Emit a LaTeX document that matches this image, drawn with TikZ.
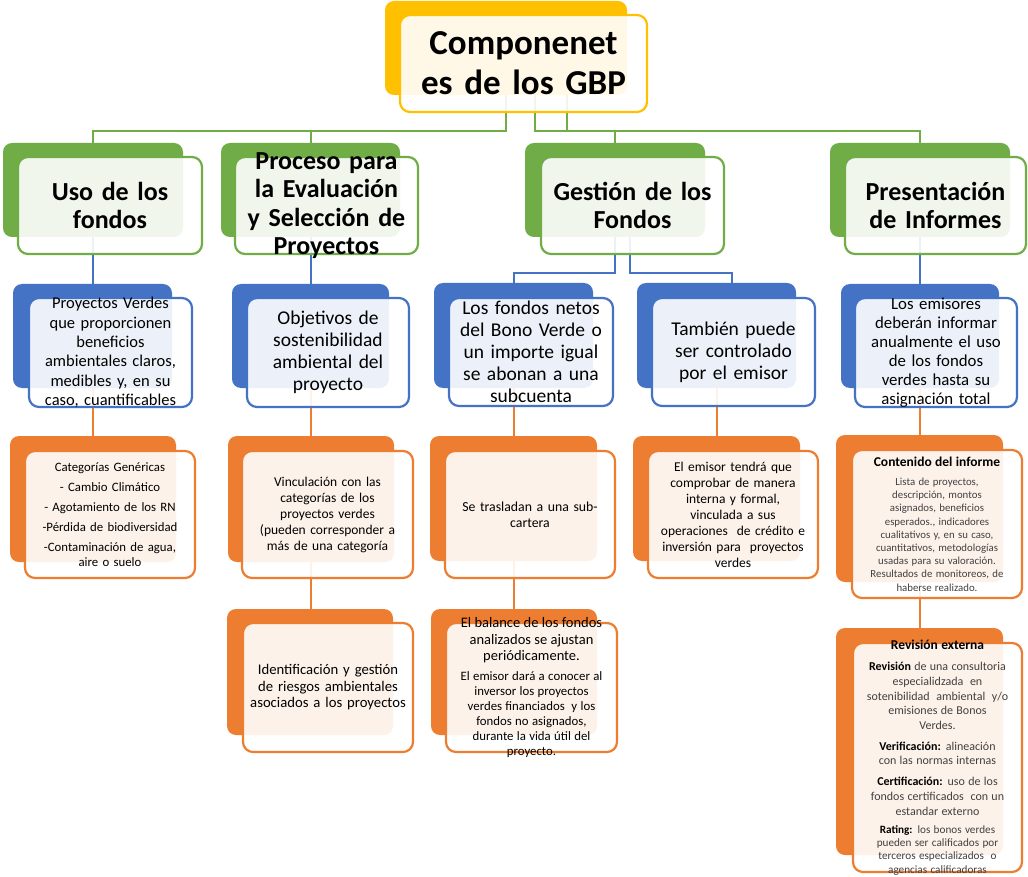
\documentclass[tikz,border=0pt]{standalone}
\usepackage{fontspec}
\setmainfont{Carlito}
\definecolor{gbpgreen}{HTML}{70AD47}
\definecolor{gbpblue}{HTML}{4472C4}
\definecolor{gbporange}{HTML}{ED7D31}
\definecolor{gbpgold}{HTML}{FFC000}
\newcommand\gbpfs[2]{\fontsize{#1}{#2}\selectfont}
\begin{document}
\begin{tikzpicture}[x=1pt,y=-1pt,
  backbox/.style={fill=#1, draw=none, rounded corners=9pt, inner sep=0pt, outer sep=0pt, anchor=north west},
  frontbox/.style={draw=#1, line width=2.2pt, fill=white, fill opacity=0.9, rounded corners=10pt, inner sep=0pt, outer sep=0pt, anchor=north west},
  boxtext/.style={text width=230pt, align=center, inner sep=0pt, text=black},
  link/.style={draw=#1, line width=2pt},
]
\fill[white] (0,0) rectangle (1028,877);
\useasboundingbox (0,0) rectangle (1028,877);

% ---------- solid back panels ----------
\node[backbox=gbpgold,   minimum width=242pt, minimum height=94pt]  (tb)  at (385,1) {};
\node[backbox=gbpgreen,  minimum width=180pt, minimum height=94pt]  (h1b) at (3,143) {};
\node[backbox=gbpgreen,  minimum width=179pt, minimum height=94pt]  (h2b) at (221,143) {};
\node[backbox=gbpgreen,  minimum width=180pt, minimum height=94pt]  (h3b) at (525,143) {};
\node[backbox=gbpgreen,  minimum width=180pt, minimum height=94pt]  (h4b) at (830,143) {};
\node[backbox=gbpblue,   minimum width=159pt, minimum height=104pt] (b1b) at (13,284) {};
\node[backbox=gbpblue,   minimum width=157pt, minimum height=104pt] (b2b) at (232,284) {};
\node[backbox=gbpblue,   minimum width=159pt, minimum height=105pt] (b3b) at (434,283) {};
\node[backbox=gbpblue,   minimum width=159pt, minimum height=105pt] (b4b) at (637,283) {};
\node[backbox=gbpblue,   minimum width=158pt, minimum height=104pt] (b5b) at (841,284) {};
\node[backbox=gbporange, minimum width=166pt, minimum height=126pt] (o1b) at (10,436) {};
\node[backbox=gbporange, minimum width=166pt, minimum height=126pt] (o2b) at (228,436) {};
\node[backbox=gbporange, minimum width=167pt, minimum height=125pt] (o3b) at (430,436) {};
\node[backbox=gbporange, minimum width=167pt, minimum height=125pt] (o4b) at (633,436) {};
\node[backbox=gbporange, minimum width=167pt, minimum height=147pt] (o5b) at (836,435) {};
\node[backbox=gbporange, minimum width=166pt, minimum height=126pt] (o6b) at (227,609) {};
\node[backbox=gbporange, minimum width=166pt, minimum height=126pt] (o7b) at (431,609) {};
\node[backbox=gbporange, minimum width=167pt, minimum height=227pt] (o8b) at (836,628) {};

% ---------- connectors ----------
\draw[link=gbpgreen] (tb.south) -- ++(0,36) -| (h1b.north);
\draw[link=gbpgreen] (tb.south) -- ++(0,36) -| (h2b.north);
\draw[link=gbpgreen] ([xshift=29pt]tb.south) -- ++(0,36) -| (h3b.north);
\draw[link=gbpgreen] ([xshift=61pt]tb.south) -- ++(0,36) -| (h4b.north);

\draw[link=gbpblue] (h1b.south) -- (h1b.south |- b1b.north);
\draw[link=gbpblue] (h2b.south) -- (h2b.south |- b2b.north);
\draw[link=gbpblue] (h3b.south) -- ++(0,36) -| (b3b.north);
\draw[link=gbpblue] ([xshift=15pt]h3b.south) -- ++(0,36) -| ([xshift=15pt]b4b.north);
\draw[link=gbpblue] (h4b.south) -- (h4b.south |- b5b.north);

\draw[link=gbporange] (b1b.south) -- (b1b.south |- o1b.north);
\draw[link=gbporange] (b2b.south) -- (b2b.south |- o2b.north);
\draw[link=gbporange] (b3b.south) -- (b3b.south |- o3b.north);
\draw[link=gbporange] (b4b.south) -- (b4b.south |- o4b.north);
\draw[link=gbporange] (b5b.south) -- (b5b.south |- o5b.north);
\draw[link=gbporange] (o2b.south) -- (o2b.south |- o6b.north);
\draw[link=gbporange] (o3b.south) -- (o3b.south |- o7b.north);
\draw[link=gbporange] (o5b.south) -- (o5b.south |- o8b.north);

% ---------- light front panels ----------
\node[frontbox=gbpgold,   minimum width=247pt, minimum height=97pt]  (t)  at (400,15) {};
\node[frontbox=gbpgreen,  minimum width=184pt, minimum height=97pt]  (h1) at (18,157) {};
\node[frontbox=gbpgreen,  minimum width=183pt, minimum height=97pt]  (h2) at (235,157) {};
\node[frontbox=gbpgreen,  minimum width=183pt, minimum height=97pt]  (h3) at (541,157) {};
\node[frontbox=gbpgreen,  minimum width=181pt, minimum height=97pt]  (h4) at (845,157) {};
\node[frontbox=gbpblue,   minimum width=163pt, minimum height=109pt] (b1) at (29,298) {};
\node[frontbox=gbpblue,   minimum width=162pt, minimum height=109pt] (b2) at (247,298) {};
\node[frontbox=gbpblue,   minimum width=164pt, minimum height=108pt] (b3) at (449,298) {};
\node[frontbox=gbpblue,   minimum width=163pt, minimum height=108pt] (b4) at (652,298) {};
\node[frontbox=gbpblue,   minimum width=162pt, minimum height=109pt] (b5) at (855,298) {};
\node[frontbox=gbporange, minimum width=170pt, minimum height=127pt] (o1) at (25,451) {};
\node[frontbox=gbporange, minimum width=171pt, minimum height=127pt] (o2) at (242,451) {};
\node[frontbox=gbporange, minimum width=170pt, minimum height=127pt] (o3) at (445,451) {};
\node[frontbox=gbporange, minimum width=170pt, minimum height=127pt] (o4) at (648,451) {};
\node[frontbox=gbporange, minimum width=170pt, minimum height=148pt] (o5) at (852,450) {};
\node[frontbox=gbporange, minimum width=170pt, minimum height=129pt] (o6) at (243,623) {};
\node[frontbox=gbporange, minimum width=171pt, minimum height=129pt] (o7) at (446,623) {};
\node[frontbox=gbporange, minimum width=169pt, minimum height=229pt] (o8) at (853,643) {};

% ---------- texts ----------
\node[boxtext, font=\gbpfs{35}{40}\bfseries] (tt) at (t.center) {Componenet\\es de los GBP};

\node[boxtext, font=\gbpfs{26}{28.5}\bfseries] (h1t) at (h1.center) {Uso de los\\fondos};
\node[boxtext, font=\gbpfs{26}{28.5}\bfseries] (h2t) at (h2.center) {Proceso para\\la Evaluación\\y Selección de\\Proyectos};
\node[boxtext, font=\gbpfs{26}{28.5}\bfseries] (h3t) at (h3.center) {Gestión de los\\Fondos};
\node[boxtext, font=\gbpfs{26}{28.5}\bfseries] (h4t) at (h4.center) {Presentación\\de Informes};

\node[boxtext, font=\gbpfs{16.5}{19.3}] (b1t) at (b1.center) {Proyectos Verdes\\que proporcionen\\beneficios\\ambientales claros,\\medibles y, en su\\caso, cuantificables};
\node[boxtext, font=\gbpfs{19.5}{22}] (b2t) at (b2.center) {Objetivos de\\sostenibilidad\\ambiental del\\proyecto};
\node[boxtext, font=\gbpfs{19.5}{22}] (b3t) at (b3.center) {Los fondos netos\\del Bono Verde o\\un importe igual\\se abonan a una\\subcuenta};
\node[boxtext, font=\gbpfs{19.5}{22}] (b4t) at (b4.center) {También puede\\ser controlado\\por el emisor};
\node[boxtext, font=\gbpfs{16.8}{19}] (b5t) at (b5.center) {Los emisores\\deberán informar\\anualmente el uso\\de los fondos\\verdes hasta su\\asignación total};

\node[boxtext, font=\gbpfs{12.8}{15.5}] (o1t) at (o1.center) {Categorías Genéricas\\[4.5pt]- Cambio Climático\\[4.5pt]- Agotamiento de los RN\\[4.5pt]-Pérdida de biodiversidad\\[4.5pt]-Contaminación de agua,\\aire o suelo};
\node[boxtext, font=\gbpfs{13.5}{16}] (o2t) at (o2.center) {Vinculación con las\\categorías de los\\proyectos verdes\\(pueden corresponder a\\más de una categoría};
\node[boxtext, font=\gbpfs{13.8}{16}] (o3t) at (o3.center) {Se trasladan a una sub-\\cartera};
\node[boxtext, font=\gbpfs{13.5}{16}] (o4t) at (o4.center) {El emisor tendrá que\\comprobar de manera\\interna y formal,\\vinculada a sus\\operaciones\ \ de crédito e\\inversión para\ \ proyectos\\verdes};
\node[boxtext, text=black!75] (o5t) at (o5.center) {{\gbpfs{13.5}{16}\bfseries\color{black}Contenido del informe\par}\vspace{6pt}%
\gbpfs{10.8}{13.2}Lista de proyectos,\\descripción, montos\\asignados, beneficios\\esperados., indicadores\\cualitativos y, en su caso,\\cuantitativos, metodologías\\usadas para su valoración.\\Resultados de monitoreos, de\\haberse realizado.\par};
\node[boxtext, font=\gbpfs{14.7}{16.5}] (o6t) at (o6.center) {Identificación y gestión\\de riesgos ambientales\\asociados a los proyectos};
\node[boxtext] (o7t) at (o7.center) {\gbpfs{14.5}{16.5}El balance de los fondos\\analizados se ajustan\\periódicamente.\par\vspace{5pt}%
\gbpfs{12.8}{15}El emisor dará a conocer al\\inversor los proyectos\\verdes financiados\ \ y los\\fondos no asignados,\\durante la vida útil del\\proyecto.\par};
\node[boxtext, text=black!75] (o8t) at (o8.center) {{\gbpfs{13.5}{16}\bfseries\color{black}Revisión externa\par}\vspace{7pt}%
\gbpfs{12}{14.6}{\color{black}\bfseries Revisión} de una consultoria\\especialidzada\ \ en\\sotenibilidad\ \ ambiental\ \ y/o\\emisiones de Bonos\\Verdes.\par\vspace{6.4pt}%
{\color{black}\bfseries Verificación:} alineación\\con las normas internas\par\vspace{6.4pt}%
{\color{black}\bfseries Certificación:} uso de los\\fondos certificados\ \ con un\\estandar externo\par\vspace{5pt}%
\gbpfs{11.2}{13.3}{\color{black}\bfseries Rating:} los bonos verdes\\pueden ser calificados por\\terceros especializados\ \ o\\agencias calificadoras\par};
\end{tikzpicture}
\end{document}
